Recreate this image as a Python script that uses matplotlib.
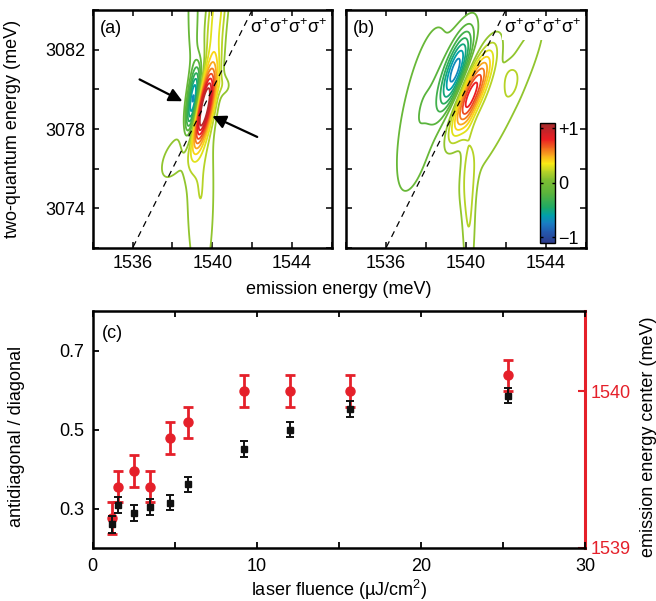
import numpy as np
import matplotlib
matplotlib.use('Agg')
import matplotlib.pyplot as plt
from matplotlib.colors import LinearSegmentedColormap, Normalize
from matplotlib.ticker import MultipleLocator, FixedLocator
import matplotlib.cm as cm

# ---------------- data: panel (c) ----------------
fluence = [1.2, 1.55, 2.5, 3.5, 4.7, 5.8, 9.2, 12.0, 15.7, 25.3]
ratio = [0.260, 0.308, 0.289, 0.304, 0.315, 0.361, 0.450, 0.500, 0.551, 0.586]
ratio_err = [0.022, 0.020, 0.020, 0.020, 0.020, 0.020, 0.020, 0.020, 0.020, 0.020]
center = [1539.19, 1539.39, 1539.49, 1539.39, 1539.70, 1539.80, 1540.00, 1540.00, 1540.00, 1540.10]
center_err = [0.10, 0.10, 0.10, 0.10, 0.10, 0.10, 0.10, 0.10, 0.10, 0.10]

# ---------------- data: 2D spectra components (amplitude, centre, widths, shear) ----------------
a_amp = [-0.82, 1.05, 0.20, -0.18, 0.35, 0.15, 0.12]
a_x0 = [1539.05, 1539.58, 1539.40, 1539.05, 1540.25, 1538.00, 1540.60]
a_y0 = [3079.35, 3079.05, 3075.00, 3083.50, 3084.00, 3076.50, 3080.20]
a_sx = [0.22, 0.28, 0.55, 0.25, 0.35, 0.50, 0.30]
a_sy = [1.25, 1.35, 4.00, 3.00, 3.00, 1.00, 0.40]
a_k = [0.14, 0.21, 0.00, 0.00, 0.10, 0.30, 0.00]

b_amp = [-0.72, 0.85, -0.20, 0.18, 0.20, 0.10]
b_x0 = [1539.50, 1540.30, 1537.80, 1542.00, 1540.15, 1542.20]
b_y0 = [3081.00, 3079.80, 3079.00, 3079.50, 3074.00, 3080.50]
b_sx = [0.38, 0.42, 0.80, 0.65, 0.25, 0.25]
b_sy = [1.40, 1.50, 3.50, 3.50, 3.00, 0.50]
b_k = [0.30, 0.40, 0.20, 0.45, 0.00, 0.00]

contour_levels = [-1.0, -0.9, -0.8, -0.7, -0.6, -0.5, -0.4, -0.3, -0.2, -0.1,
                  0.1, 0.2, 0.3, 0.4, 0.5, 0.6, 0.7, 0.8, 0.9, 1.0]

# arrows in panel (a): (tail, head)
arrow_tails = [(1536.35, 3080.5), (1542.25, 3077.6)]
arrow_heads = [(1538.5, 3079.4), (1540.0, 3078.65)]

pol_label = 'σ$^{+}$σ$^{+}$σ$^{+}$σ$^{+}$'

# ---------------- style ----------------
plt.rcParams['font.family'] = ['Liberation Sans', 'DejaVu Sans']
plt.rcParams['font.size'] = 13
plt.rcParams['mathtext.fontset'] = 'custom'
plt.rcParams['mathtext.rm'] = 'Liberation Sans'
plt.rcParams['mathtext.it'] = 'Liberation Sans:italic'

cols = [(0.00, (45, 60, 140)), (0.09, (35, 90, 175)), (0.16, (25, 125, 195)),
        (0.227, (0, 160, 170)), (0.295, (30, 170, 100)), (0.41, (90, 180, 60)),
        (0.52, (125, 190, 50)), (0.59, (180, 210, 40)), (0.66, (250, 235, 20)),
        (0.727, (250, 170, 30)), (0.795, (240, 100, 30)), (0.864, (235, 30, 35)),
        (0.93, (200, 35, 40)), (1.00, (160, 45, 45))]
cmap = LinearSegmentedColormap.from_list('spec', [(p, tuple(c / 255 for c in rgb)) for p, rgb in cols])
norm = Normalize(vmin=-1.1, vmax=1.1)

W, H = 656, 601
fig = plt.figure(figsize=(W / 100, H / 100), dpi=100)


def fr(x0, y0, x1, y1):
    return [x0 / W, 1 - y1 / H, (x1 - x0) / W, (y1 - y0) / H]


xg = np.linspace(1534, 1546, 500)
yg = np.linspace(3072, 3084, 500)
X, Y = np.meshgrid(xg, yg)


def field(amp, x0, y0, sx, sy, k):
    Z = np.zeros_like(X)
    for A, cx, cy, wx, wy, kk in zip(amp, x0, y0, sx, sy, k):
        u = (X - cx) - kk * (Y - cy)
        v = Y - cy
        Z += A * np.exp(-u ** 2 / (2 * wx ** 2) - v ** 2 / (2 * wy ** 2))
    return Z


def style2d(ax, left_labels):
    ax.set_xlim(1534, 1546)
    ax.set_ylim(3072, 3084)
    ax.xaxis.set_major_locator(FixedLocator([1536, 1540, 1544]))
    ax.xaxis.set_minor_locator(MultipleLocator(2))
    ax.yaxis.set_major_locator(FixedLocator([3074, 3078, 3082]))
    ax.yaxis.set_minor_locator(MultipleLocator(2))
    ax.tick_params(which='both', direction='in', top=True, right=True, width=1.1, length=4)
    ax.tick_params(axis='both', labelsize=13, pad=5)
    if not left_labels:
        ax.set_yticklabels([])
    for s in ax.spines.values():
        s.set_linewidth(1.8)
    # diagonal
    dx = np.array([1534.0, 1546.0])
    ax.plot(dx, 2 * dx, color='black', lw=0.9, dashes=(5, 4), zorder=3)


axa = fig.add_axes(fr(92.7, 10, 332, 248))
Za = field(a_amp, a_x0, a_y0, a_sx, a_sy, a_k)
axa.contour(X, Y, Za, levels=contour_levels, cmap=cmap, norm=norm, linewidths=1.3)
style2d(axa, True)
axa.set_ylabel('two-quantum energy (meV)', fontsize=13)
axa.yaxis.set_label_coords(-0.30, 0.5)
for t, h in zip(arrow_tails, arrow_heads):
    axa.annotate('', xy=h, xytext=t,
                 arrowprops=dict(arrowstyle='-|>', lw=1.6, color='black', mutation_scale=20,
                                 shrinkA=0, shrinkB=0), zorder=5)
axa.text(0.03, 0.924, '(a)', transform=axa.transAxes, ha='left', va='center', fontsize=13)
axa.text(0.983, 0.924, pol_label, transform=axa.transAxes, ha='right', va='center', fontsize=13,
         bbox=dict(facecolor='white', edgecolor='none', pad=1.5), zorder=6)

axb = fig.add_axes(fr(346, 10, 585.7, 248))
Zb = field(b_amp, b_x0, b_y0, b_sx, b_sy, b_k)
axb.contour(X, Y, Zb, levels=contour_levels, cmap=cmap, norm=norm, linewidths=1.3)
style2d(axb, False)
axb.text(0.03, 0.924, '(b)', transform=axb.transAxes, ha='left', va='center', fontsize=13)
axb.text(0.983, 0.924, pol_label, transform=axb.transAxes, ha='right', va='center', fontsize=13,
         bbox=dict(facecolor='white', edgecolor='none', pad=1.5), zorder=6)

fig.text(339 / W, 1 - 290 / H, 'emission energy (meV)', ha='center', va='center', fontsize=13)

# colorbar
cax = fig.add_axes(fr(540, 122.7, 555, 242.7))
sm = cm.ScalarMappable(norm=norm, cmap=cmap)
cb = fig.colorbar(sm, cax=cax, ticks=[-1, 0, 1])
cb.ax.set_yticklabels(['\u22121', '0', '+1'])
cb.ax.tick_params(direction='in', length=2, width=1, labelsize=13, pad=2, left=True)
cb.outline.set_linewidth(1.0)

# ---------------- panel (c) ----------------
axc = fig.add_axes(fr(92.7, 311, 585, 548))
axr = axc.twinx()
axc.set_zorder(axr.get_zorder() + 1)
axc.patch.set_visible(False)

red = '#e5202a'
axr.errorbar(fluence, center, yerr=center_err, fmt='o', color=red, ms=6.5, mec=red,
             elinewidth=2.0, capsize=3.5, capthick=2.0)
axc.errorbar(fluence, ratio, yerr=ratio_err, fmt='s', color='#111111', ms=4.5,
             elinewidth=1.4, capsize=2.6, capthick=1.4)

axc.set_xlim(0, 30)
axc.set_ylim(0.2, 0.8)
axr.set_ylim(1539, 1540.51)
axc.xaxis.set_major_locator(FixedLocator([0, 10, 20, 30]))
axc.xaxis.set_minor_locator(FixedLocator([5, 15, 25]))
axc.yaxis.set_major_locator(FixedLocator([0.3, 0.5, 0.7]))
axc.set_yticklabels(['0.3', '0.5', '0.7'])
axc.tick_params(which='both', direction='in', top=True, right=False, width=1.3, length=4,
                labelsize=13)
axc.tick_params(axis='x', pad=7)
axc.tick_params(axis='y', pad=6)
axc.spines['right'].set_visible(False)
for s in ['left', 'top', 'bottom']:
    axc.spines[s].set_linewidth(1.8)
for s in ['left', 'top', 'bottom']:
    axr.spines[s].set_visible(False)
axr.spines['right'].set_color(red)
axr.spines['right'].set_linewidth(2.2)
axr.yaxis.set_major_locator(FixedLocator([1539, 1540]))
axr.set_yticklabels(['1539', '1540'])
axr.tick_params(axis='y', direction='in', color=red, labelcolor=red, width=1.5, length=5,
                labelsize=13, pad=4)

axc.set_xlabel('laser fluence (µJ/cm$^{2}$)', fontsize=13)
axc.xaxis.set_label_coords(0.5, -0.128)
axc.set_ylabel('antidiagonal / diagonal', fontsize=13)
axc.yaxis.set_label_coords(-0.1375, 0.47)
axr.set_ylabel('emission energy center (meV)', fontsize=13, color='black')
axr.yaxis.set_label_coords(1.112, 0.47)
axc.text(0.018, 0.907, '(c)', transform=axc.transAxes, ha='left', va='center', fontsize=13)

fig.savefig('out.png', dpi=100)
